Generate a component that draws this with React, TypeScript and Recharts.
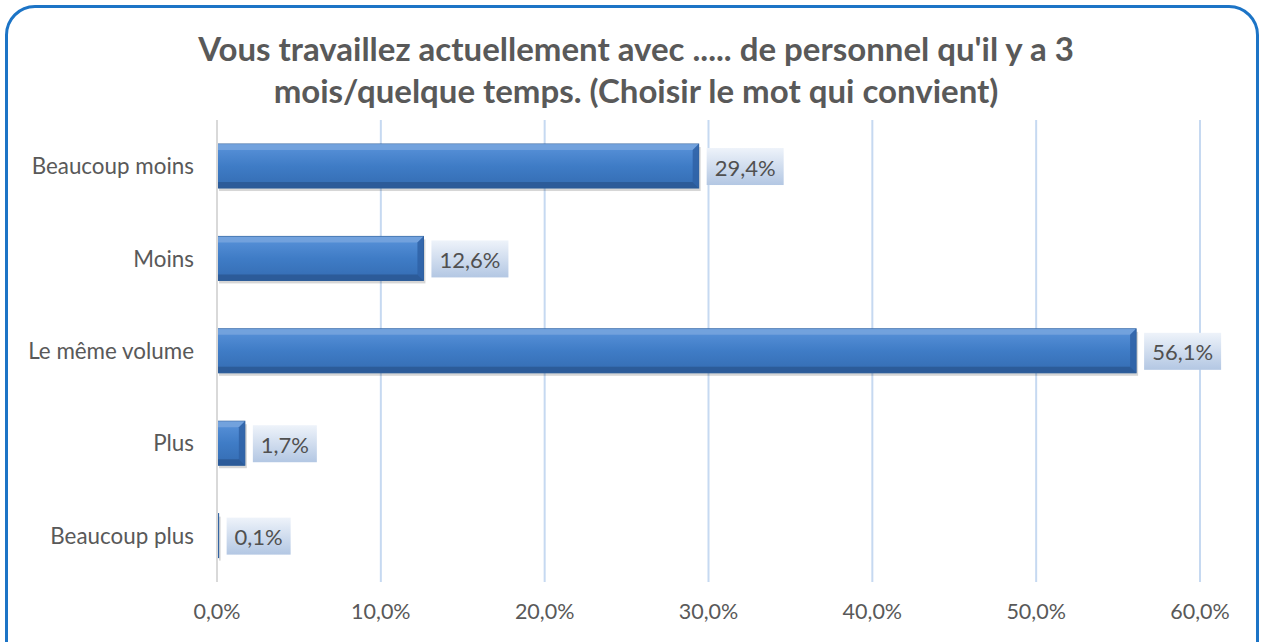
import React from 'react';
import { BarChart, Bar, XAxis, YAxis, CartesianGrid, LabelList } from 'recharts';

const categories = ['Beaucoup moins', 'Moins', 'Le même volume', 'Plus', 'Beaucoup plus'];
const values = [29.4, 12.6, 56.1, 1.7, 0.1];
const xTicks = [0, 10, 20, 30, 40, 50, 60];
const titleLines = ["Vous travaillez actuellement avec ..... de personnel qu'il y a 3", 'mois/quelque temps. (Choisir le mot qui convient)'];

const data = categories.map((c, i) => ({ name: c, value: values[i] }));
const fmt = (v: number) => v.toFixed(1).replace('.', ',') + '%';
const FONT = 'Lato, "Open Sans", sans-serif';

const BevelBar = (props: any) => {
  const { x, y, width, height } = props;
  if (width <= 0) return null;
  const b = Math.min(6, width / 3);
  return (
    <g>
      <rect x={x + 2} y={y + 3} width={width} height={height} fill="rgba(0,0,0,0.16)" />
      <rect x={x} y={y} width={width} height={height} fill="url(#barGrad)" stroke="#2b5d9b" strokeWidth={1} />
      <polygon points={`${x},${y} ${x + width},${y} ${x + width - b},${y + b} ${x},${y + b}`} fill="#79a6df" opacity={0.8} />
      <polygon points={`${x + width},${y} ${x + width},${y + height} ${x + width - b},${y + height - b} ${x + width - b},${y + b}`} fill="#2f62a6" opacity={0.85} />
      <polygon points={`${x},${y + height} ${x + width},${y + height} ${x + width - b},${y + height - b} ${x},${y + height - b}`} fill="#2a5894" opacity={0.85} />
    </g>
  );
};

const ValueLabel = (props: any) => {
  const { x, y, width, height, value } = props;
  const text = fmt(Number(value));
  const w = text.length * 13 + 12;
  const bx = x + width + 8;
  const cy = y + height / 2;
  return (
    <g>
      <rect x={bx} y={cy - 18} width={w} height={37} fill="url(#lblGrad)" />
      <text x={bx + w / 2} y={cy + 1} textAnchor="middle" dominantBaseline="central" fill="#505050" fontSize={22} fontFamily={FONT}>{text}</text>
    </g>
  );
};

export default function App() {
  return (
    <div style={{ position: 'absolute', left: 0, top: 0, width: 1261, height: 642, background: '#fff', overflow: 'hidden' }}>
      <div style={{ position: 'absolute', left: 5, top: 5, width: 1254, height: 680, border: '3px solid #1c74c6', borderRadius: 30, boxSizing: 'border-box' }} />
      <div style={{ position: 'absolute', left: 0, top: 0 }}>
        <BarChart width={1261} height={642} data={data} layout="vertical" margin={{ top: 120, right: 61, bottom: 30, left: 17 }} barCategoryGap="26%">
          <defs>
            <linearGradient id="barGrad" x1="0" y1="0" x2="0" y2="1">
              <stop offset="0%" stopColor="#5a93da" />
              <stop offset="50%" stopColor="#3f7cc6" />
              <stop offset="100%" stopColor="#346cb2" />
            </linearGradient>
            <linearGradient id="lblGrad" x1="0" y1="0" x2="0" y2="1">
              <stop offset="0%" stopColor="#eef3fa" />
              <stop offset="100%" stopColor="#b3c7e3" />
            </linearGradient>
          </defs>
          <text x={636} y={48} textAnchor="middle" dominantBaseline="central" fill="#595959" fontSize={33} fontWeight="bold" fontFamily={FONT}>{titleLines[0]}</text>
          <text x={636} y={90} textAnchor="middle" dominantBaseline="central" fill="#595959" fontSize={33} fontWeight="bold" fontFamily={FONT}>{titleLines[1]}</text>
          <CartesianGrid horizontal={false} vertical={true} stroke="#c6d9f1" strokeWidth={2} />
          <XAxis type="number" domain={[0, 60]} ticks={xTicks} tickFormatter={fmt} axisLine={false} tickLine={false} tick={{ fill: '#595959', fontSize: 21.5, fontFamily: FONT }} tickMargin={16} />
          <YAxis type="category" dataKey="name" width={200} axisLine={{ stroke: '#d9d9d9', strokeWidth: 2 }} tickLine={false} tick={{ fill: '#595959', fontSize: 22.4, fontFamily: FONT }} tickMargin={17} />
          <Bar dataKey="value" isAnimationActive={false} shape={BevelBar}>
            <LabelList dataKey="value" content={ValueLabel} />
          </Bar>
        </BarChart>
      </div>
    </div>
  );
}
